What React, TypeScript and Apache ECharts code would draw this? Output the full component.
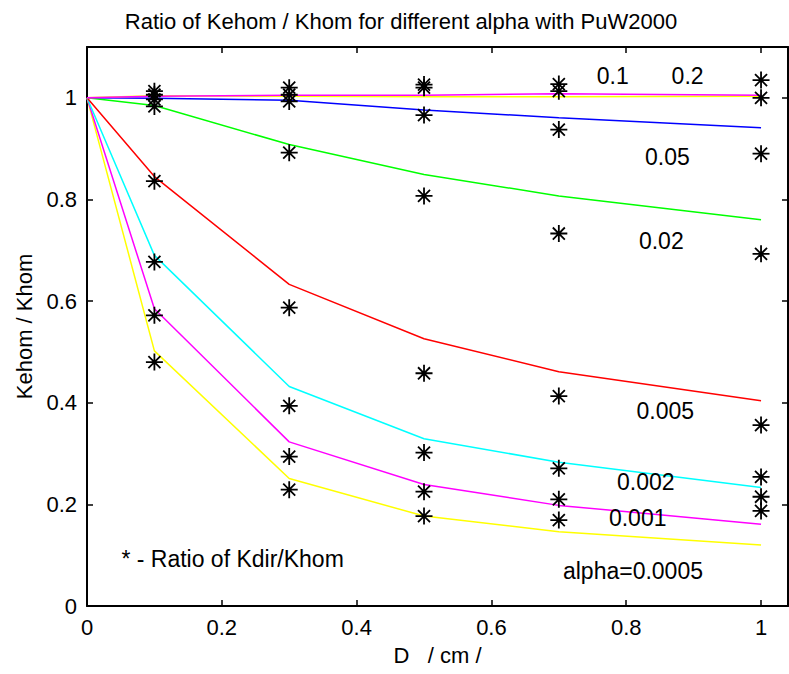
import React, { useEffect, useRef } from "react";
import * as echarts from "echarts";

const D = [0, 0.1, 0.3, 0.5, 0.7, 1.0];
const D_STAR = [0.1, 0.3, 0.5, 0.7, 1.0];
const ALPHAS = ["0.0005", "0.001", "0.002", "0.005", "0.02", "0.05", "0.1", "0.2"];
const LINE_COLORS = ["#ffff00", "#ff00ff", "#00ffff", "#ff0000", "#00ff00", "#0000ff", "#ffff00", "#ff00ff"];

const KEHOM_0005 = [1, 0.502, 0.251, 0.177, 0.146, 0.12];
const KEHOM_001 = [1, 0.585, 0.323, 0.239, 0.198, 0.161];
const KEHOM_002 = [1, 0.69, 0.432, 0.329, 0.283, 0.233];
const KEHOM_005 = [1, 0.845, 0.633, 0.526, 0.461, 0.404];
const KEHOM_02 = [1, 0.985, 0.908, 0.849, 0.807, 0.76];
const KEHOM_05 = [1, 0.999, 0.995, 0.976, 0.961, 0.941];
const KEHOM_1 = [1, 1.004, 1.003, 1.002, 1.002, 1.003];
const KEHOM_2 = [1, 1.003, 1.005, 1.005, 1.008, 1.005];
const KEHOM = [KEHOM_0005, KEHOM_001, KEHOM_002, KEHOM_005, KEHOM_02, KEHOM_05, KEHOM_1, KEHOM_2];

const KDIR_0005 = [0.48, 0.229, 0.177, 0.169, 0.187];
const KDIR_001 = [0.572, 0.294, 0.225, 0.21, 0.215];
const KDIR_002 = [0.677, 0.394, 0.302, 0.271, 0.254];
const KDIR_005 = [0.836, 0.587, 0.458, 0.413, 0.356];
const KDIR_02 = [0.983, 0.892, 0.807, 0.733, 0.693];
const KDIR_05 = [0.997, 0.993, 0.966, 0.9375, 0.89];
const KDIR_1 = [1.006, 1.006, 1.02, 1.013, 1.0];
const KDIR_2 = [1.013, 1.02, 1.026, 1.027, 1.035];
const KDIR = [KDIR_0005, KDIR_001, KDIR_002, KDIR_005, KDIR_02, KDIR_05, KDIR_1, KDIR_2];

const X_TICKS = [0, 0.2, 0.4, 0.6, 0.8, 1];
const Y_TICKS = [0, 0.2, 0.4, 0.6, 0.8, 1];

const ANNOTATIONS: [number, number, string][] = [
  [0.78, 1.042, "0.1"],
  [0.891, 1.042, "0.2"],
  [0.861, 0.884, "0.05"],
  [0.852, 0.719, "0.02"],
  [0.858, 0.384, "0.005"],
  [0.829, 0.244, "0.002"],
  [0.817, 0.173, "0.001"],
  [0.81, 0.068, "alpha=0.0005"],
  [0.216, 0.092, "* - Ratio of Kdir/Khom"],
];

const FONT = "'Liberation Sans', Arial, Helvetica, sans-serif";
const STAR = "path://M0,-10L0,10M-10,0L10,0M-7.07,-7.07L7.07,7.07M-7.07,7.07L7.07,-7.07";

export default function App() {
  const ref = useRef<HTMLDivElement>(null);
  useEffect(() => {
    if (!ref.current) return;
    const chart = echarts.init(ref.current, undefined, { renderer: "svg" });
    const fmtX = (v: number) => (X_TICKS.some((t) => Math.abs(t - v) < 1e-9) ? String(+v.toFixed(1)) : "");
    const fmtY = (v: number) => (Y_TICKS.some((t) => Math.abs(t - v) < 1e-9) ? String(+v.toFixed(1)) : "");
    const lineSeries = KEHOM.map((vals, i) => ({
      type: "line",
      name: "alpha=" + ALPHAS[i],
      data: vals.map((v, j) => [D[j], v]),
      showSymbol: false,
      symbol: "none",
      lineStyle: { color: LINE_COLORS[i], width: 1.5 },
      z: 2,
    }));
    const starSeries = KDIR.map((vals, i) => ({
      type: "scatter",
      name: "Kdir " + ALPHAS[i],
      data: vals.map((v, j) => [D_STAR[j], v]),
      symbol: STAR,
      symbolSize: 17,
      itemStyle: { color: "transparent", borderColor: "#000", borderWidth: 1.8, opacity: 1 },
      z: 3,
    }));
    const annoSeries = {
      type: "scatter",
      data: ANNOTATIONS.map((a) => ({ value: [a[0], a[1]], name: a[2] })),
      symbolSize: 0,
      itemStyle: { color: "transparent", opacity: 1 },
      label: {
        show: true,
        position: [0, 0],
        formatter: (p: any) => p.name,
        color: "#000",
        fontSize: 23,
        fontFamily: FONT,
        align: "center",
        verticalAlign: "middle",
        textBorderWidth: 0,
      },
      z: 4,
    };
    const axisCommon = {
      axisLine: { show: true, onZero: false, lineStyle: { color: "#000", width: 2 } },
      axisTick: { show: true, inside: true, length: 6, lineStyle: { color: "#000", width: 1.5 } },
      splitLine: { show: false },
    };
    chart.setOption({
      animation: false,
      backgroundColor: "#fff",
      title: {
        text: "Ratio of Kehom / Khom for different alpha with PuW2000",
        left: 396,
        top: 5,
        textAlign: "center",
        textStyle: { fontSize: 22, fontWeight: "normal", color: "#000", fontFamily: FONT },
      },
      grid: { left: 87, top: 47, right: 1, bottom: 68, containLabel: false },
      xAxis: [
        {
          type: "value",
          min: 0,
          max: 1.04,
          interval: 0.2,
          name: "D   / cm /",
          nameLocation: "middle",
          nameGap: 38,
          nameTextStyle: { fontSize: 22, color: "#000", fontFamily: FONT },
          axisLabel: { show: true, formatter: fmtX, color: "#000", fontSize: 22, fontFamily: FONT, margin: 10, showMaxLabel: false },
          ...axisCommon,
        },
        {
          type: "value",
          position: "top",
          min: 0,
          max: 1.04,
          interval: 0.2,
          axisLabel: { show: false },
          ...axisCommon,
        },
      ],
      yAxis: [
        {
          type: "value",
          min: 0,
          max: 1.1,
          interval: 0.2,
          name: "Kehom / Khom",
          nameLocation: "middle",
          nameGap: 48,
          nameTextStyle: { fontSize: 22, color: "#000", fontFamily: FONT },
          axisLabel: { show: true, formatter: fmtY, color: "#000", fontSize: 22, fontFamily: FONT, margin: 10, showMaxLabel: false },
          ...axisCommon,
        },
        {
          type: "value",
          position: "right",
          min: 0,
          max: 1.1,
          interval: 0.2,
          axisLabel: { show: false },
          ...axisCommon,
        },
      ],
      series: [...lineSeries, ...starSeries, annoSeries],
    });
    return () => chart.dispose();
  }, []);
  return <div ref={ref} style={{ width: 789, height: 674, position: "absolute", left: 0, top: 0 }} />;
}
